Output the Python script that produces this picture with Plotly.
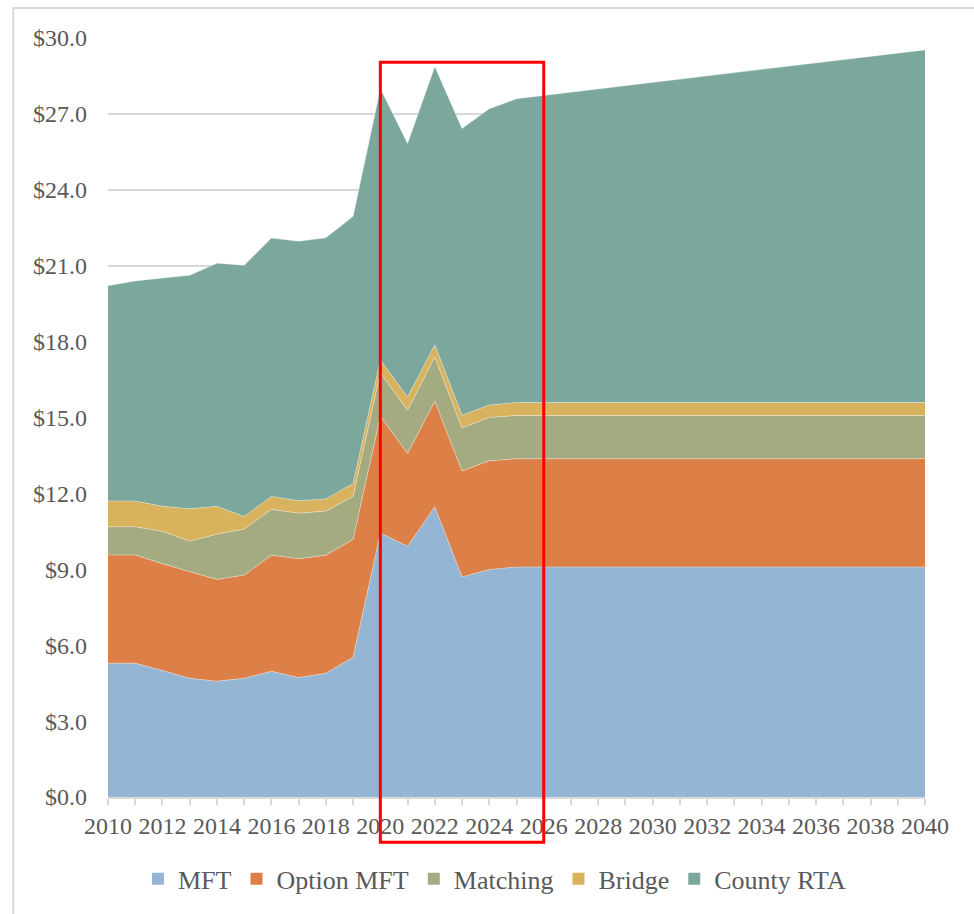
import plotly.graph_objects as go

years = [2010, 2011, 2012, 2013, 2014, 2015, 2016, 2017, 2018, 2019, 2020,
         2021, 2022, 2023, 2024, 2025, 2026, 2027, 2028, 2029, 2030,
         2031, 2032, 2033, 2034, 2035, 2036, 2037, 2038, 2039, 2040]

mft = [5.29, 5.29, 5.00, 4.69, 4.58, 4.69, 4.97, 4.72, 4.89, 5.52, 10.43,
       9.91, 11.47, 8.70, 8.99, 9.09, 9.09, 9.09, 9.09, 9.09, 9.09,
       9.09, 9.09, 9.09, 9.09, 9.09, 9.09, 9.09, 9.09, 9.09, 9.09]

option_mft = [4.28, 4.28, 4.22, 4.22, 4.02, 4.08, 4.59, 4.70, 4.67, 4.66, 4.62,
              3.67, 4.17, 4.19, 4.30, 4.28, 4.28, 4.28, 4.28, 4.28, 4.28,
              4.28, 4.28, 4.28, 4.28, 4.28, 4.28, 4.28, 4.28, 4.28, 4.28]

matching = [1.11, 1.11, 1.28, 1.20, 1.79, 1.82, 1.81, 1.80, 1.74, 1.70, 1.72,
            1.71, 1.75, 1.70, 1.71, 1.71, 1.71, 1.71, 1.71, 1.71, 1.71,
            1.71, 1.71, 1.71, 1.71, 1.71, 1.71, 1.71, 1.71, 1.71, 1.71]

bridge = [1.02, 1.02, 0.99, 1.28, 1.10, 0.50, 0.51, 0.49, 0.48, 0.51, 0.50,
          0.52, 0.48, 0.50, 0.49, 0.51, 0.51, 0.51, 0.51, 0.51, 0.51,
          0.51, 0.51, 0.51, 0.51, 0.51, 0.51, 0.51, 0.51, 0.51, 0.51]

county_rta = [8.51, 8.70, 9.02, 9.23, 9.61, 9.93, 10.21, 10.26, 10.32, 10.56, 10.73,
              10.02, 11.00, 11.33, 11.71, 12.01, 12.14, 12.27, 12.40, 12.53, 12.66,
              12.78, 12.91, 13.04, 13.17, 13.30, 13.43, 13.55, 13.68, 13.81, 13.94]

series_names = ["MFT", "Option MFT", "Matching", "Bridge", "County RTA"]
series_values = [mft, option_mft, matching, bridge, county_rta]
series_colors = ["#94B5D3", "#DD8047", "#A5AB81", "#D8B25C", "#7BA79D"]

y_ticks = [0, 3, 6, 9, 12, 15, 18, 21, 24, 27, 30]
x_label_ticks = [2010, 2012, 2014, 2016, 2018, 2020, 2022, 2024, 2026, 2028,
                 2030, 2032, 2034, 2036, 2038, 2040]

highlight_start = 2020
highlight_end = 2026

FONT = "Liberation Serif"
TEXT_COLOR = "#595959"
GRID = "#D9D9D9"

fig = go.Figure()

for name, vals, col in zip(series_names, series_values, series_colors):
    fig.add_trace(go.Scatter(
        x=years, y=vals, name=name, stackgroup="one", mode="lines",
        line=dict(width=0.8, color="rgba(255,255,255,0.45)"),
        fillcolor=col, showlegend=False, hoverinfo="x+y+name",
    ))

for name, col in zip(series_names, series_colors):
    fig.add_trace(go.Scatter(
        x=[None], y=[None], name=name, mode="markers",
        marker=dict(symbol="square", size=12, color=col),
        showlegend=True,
    ))

x0, x1 = years[0], years[-1]
ymax = y_ticks[-1]


def px_x(v):
    return (v - x0) / (x1 - x0)


# red highlight box (paper coordinates so it may extend below axis)
fig.add_shape(type="rect", xref="paper", yref="paper",
              x0=px_x(highlight_start), x1=px_x(highlight_end),
              y0=-0.0595, y1=0.968,
              line=dict(color="#FF0000", width=3), fillcolor="rgba(0,0,0,0)")

# chart outer border
fig.add_shape(type="rect", xref="paper", yref="paper",
              x0=-0.1160, x1=1.2, y0=-0.3, y1=1.0394,
              line=dict(color=GRID, width=2), fillcolor="rgba(0,0,0,0)",
              layer="below")

fig.update_layout(
    width=974, height=914,
    margin=dict(l=108, r=49, t=38, b=114),
    paper_bgcolor="white", plot_bgcolor="white",
    font=dict(family=FONT, color=TEXT_COLOR, size=24),
    showlegend=True,
    legend=dict(orientation="h", x=0.473, xanchor="center", y=-0.108,
                yanchor="middle", font=dict(family=FONT, size=26, color=TEXT_COLOR),
                itemclick=False, traceorder="normal"),
    xaxis=dict(range=[x0, x1], tickvals=x_label_ticks,
               ticktext=[str(v) for v in x_label_ticks],
               showgrid=False, zeroline=False,
               showline=True, linecolor=GRID, linewidth=1.5,
               ticks="outside", ticklen=6, tickcolor=GRID, tickwidth=1.5,
               minor=dict(dtick=1, tick0=2010, ticks="outside", ticklen=6,
                          tickcolor=GRID, tickwidth=1.5, showgrid=False),
               tickfont=dict(family=FONT, size=24, color=TEXT_COLOR)),
    yaxis=dict(range=[0, ymax], tickvals=y_ticks, tickformat="$.1f",
               showgrid=True, gridcolor=GRID, gridwidth=1.5,
               zeroline=False, showline=False, ticks="",
               ticklabelstandoff=20,
               tickfont=dict(family=FONT, size=24, color=TEXT_COLOR)),
)

fig.write_html("out.html", config={"displayModeBar": False},
               post_script="document.body.style.margin='0';document.body.style.overflow='hidden';")
